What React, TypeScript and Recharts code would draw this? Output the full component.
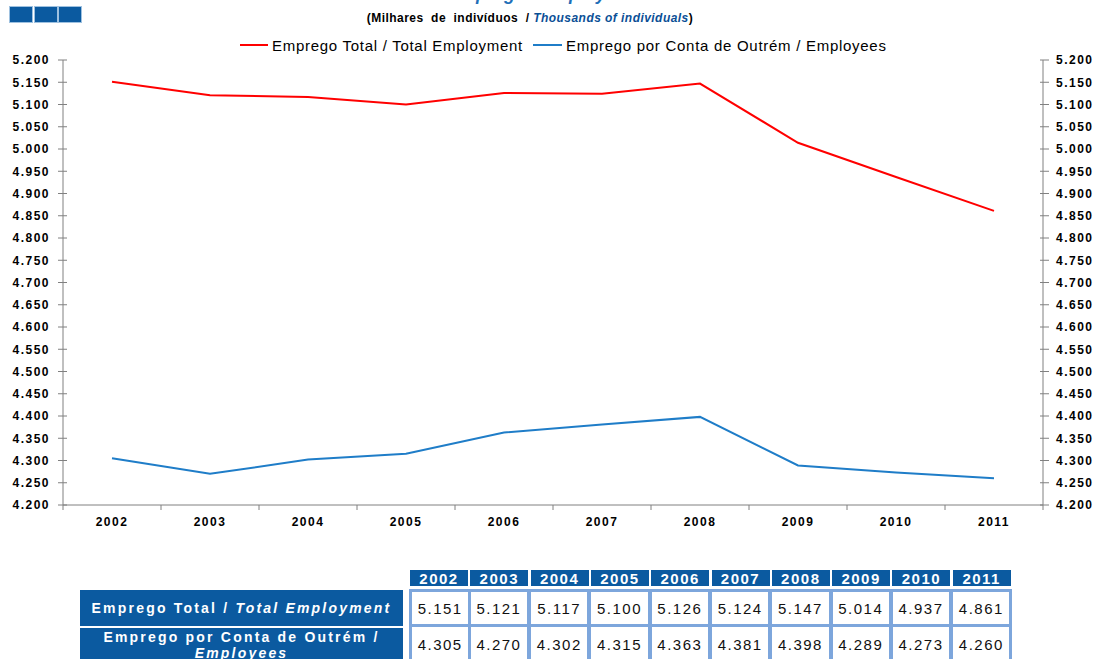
import React from 'react';
import { LineChart, Line, XAxis, YAxis } from 'recharts';

const years = ['2002', '2003', '2004', '2005', '2006', '2007', '2008', '2009', '2010', '2011'];
const totalEmployment = [5151, 5121, 5117, 5100, 5126, 5124, 5147, 5014, 4937, 4861];
const employees = [4305, 4270, 4302, 4315, 4363, 4381, 4398, 4289, 4273, 4260];
const yTicks = [4200, 4250, 4300, 4350, 4400, 4450, 4500, 4550, 4600, 4650, 4700, 4750, 4800, 4850, 4900, 4950, 5000, 5050, 5100, 5150, 5200];

const seriesTotalName = 'Emprego Total / Total Employment';
const seriesEmpName = 'Emprego por Conta de Outrém / Employees';

const RED = '#FF0000';
const BLUE = '#1F7DC8';
const NAVY = '#0B5AA0';
const AXIS = '#808080';
const CELL_BORDER = '#7DA6DC';
const FONT = '"Liberation Sans", Arial, sans-serif';

const CHART_W = 1097;
const PLOT_LEFT = 63;
const PLOT_RIGHT_W = 54;
const HALF_BAND = (CHART_W - PLOT_LEFT - PLOT_RIGHT_W) / years.length / 2;
const X_TICK_MARGIN = 12;

const data = years.map((y, i) => ({ year: y, total: totalEmployment[i], employees: employees[i] }));

const fmt = (v: number) => (v / 1000).toFixed(3);

const LeftTick = (props: any) => {
  const { x, y, payload } = props;
  return (
    <g>
      <line x1={x + 8} x2={x + 17} y1={y} y2={y} stroke={AXIS} strokeWidth={1} />
      <text x={x} y={y} dy="0.36em" textAnchor="end" fontSize={12} fontWeight="bold" fill="#000" style={{ letterSpacing: 1.5 }} fontFamily={FONT}>
        {fmt(payload.value)}
      </text>
    </g>
  );
};

const RightTick = (props: any) => {
  const { x, y, payload } = props;
  return (
    <g>
      <line x1={x - 16} x2={x - 7} y1={y} y2={y} stroke={AXIS} strokeWidth={1} />
      <text x={x} y={y} dy="0.36em" textAnchor="start" fontSize={12} fontWeight="bold" fill="#000" style={{ letterSpacing: 1.5 }} fontFamily={FONT}>
        {fmt(payload.value)}
      </text>
    </g>
  );
};

const BottomTick = (props: any) => {
  const { x, y, payload, index } = props;
  const axisY = y - X_TICK_MARGIN;
  const last = index === years.length - 1;
  return (
    <g>
      <line x1={x - HALF_BAND} x2={x - HALF_BAND} y1={axisY} y2={axisY + 5} stroke={AXIS} strokeWidth={1} />
      {last && <line x1={x + HALF_BAND} x2={x + HALF_BAND} y1={axisY} y2={axisY + 5} stroke={AXIS} strokeWidth={1} />}
      <text x={x} y={y} dy="0.71em" textAnchor="middle" fontSize={12} fontWeight="bold" fill="#000" style={{ letterSpacing: 1.5 }} fontFamily={FONT}>
        {payload.value}
      </text>
    </g>
  );
};

const TableBox: React.FC<{ style: React.CSSProperties; children?: React.ReactNode }> = ({ style, children }) => (
  <div style={{ position: 'absolute', boxSizing: 'border-box', display: 'flex', alignItems: 'center', justifyContent: 'center', ...style }}>{children}</div>
);

export default function App() {
  const colX = (i: number) => 410 + i * 60.3;
  return (
    <div style={{ position: 'absolute', left: 0, top: 0, width: 1097, height: 659, overflow: 'hidden', background: '#fff', fontFamily: FONT }}>
      {/* decorative squares */}
      {[0, 1, 2].map((i) => (
        <div key={i} style={{ position: 'absolute', left: 10 + i * 24.5, top: 7, width: 22, height: 15, background: NAVY, boxShadow: '0 0 0 1px #9EC1E0' }} />
      ))}
      {/* title (mostly cut off) */}
      <div style={{ position: 'absolute', left: 0, width: 1097, top: -17, textAlign: 'center', fontSize: 18, fontWeight: 'bold', fontStyle: 'italic', color: '#1F6FB8', lineHeight: '22px', boxSizing: 'border-box' }}>
        Emprego / Employment
      </div>
      {/* subtitle */}
      <div style={{ position: 'absolute', left: 0, width: 1060, top: 10, textAlign: 'center', fontSize: 12, fontWeight: 'bold', color: '#000', lineHeight: '16px', letterSpacing: 0.45 }}>
        (Milhares&nbsp; de&nbsp; indivíduos&nbsp;&nbsp;/ <span style={{ color: '#0B4F96', fontStyle: 'italic' }}>Thousands of individuals</span>)
      </div>
      {/* legend */}
      <div style={{ position: 'absolute', left: 240, top: 36, height: 18, display: 'flex', alignItems: 'center', fontSize: 15, color: '#000', letterSpacing: 0.72, whiteSpace: 'nowrap' }}>
        <span style={{ display: 'inline-block', width: 28, height: 2, background: RED, marginRight: 4 }} />
        <span>{seriesTotalName}</span>
        <span style={{ display: 'inline-block', width: 29, height: 2, background: BLUE, marginLeft: 10, marginRight: 4 }} />
        <span>{seriesEmpName}</span>
      </div>

      <div style={{ position: 'absolute', left: 0, top: 0 }}>
        <LineChart width={CHART_W} height={545} data={data} margin={{ top: 60, right: 0, bottom: 10, left: 0 }}>
          <XAxis xAxisId="cat" dataKey="year" type="category" height={30} padding={{ left: HALF_BAND, right: HALF_BAND }} axisLine={{ stroke: AXIS }} tickLine={false} tickSize={0} tickMargin={X_TICK_MARGIN} interval={0}
            tick={<BottomTick />} />
          <YAxis yAxisId="left" orientation="left" width={PLOT_LEFT} domain={[4200, 5200]} ticks={yTicks} interval={0} tickSize={5} tickMargin={8} tickLine={false} axisLine={{ stroke: AXIS }} tick={<LeftTick />} allowDataOverflow />
          <YAxis yAxisId="right" orientation="right" width={PLOT_RIGHT_W} domain={[4200, 5200]} ticks={yTicks} interval={0} tickSize={5} tickMargin={8} tickLine={false} axisLine={{ stroke: AXIS }} tick={<RightTick />} allowDataOverflow />
          <Line xAxisId="cat" yAxisId="left" type="linear" dataKey="total" name={seriesTotalName} stroke={RED} strokeWidth={2} dot={false} isAnimationActive={false} />
          <Line xAxisId="cat" yAxisId="left" type="linear" dataKey="employees" name={seriesEmpName} stroke={BLUE} strokeWidth={2} dot={false} isAnimationActive={false} />
        </LineChart>
      </div>

      {/* data table */}
      {years.map((y, i) => (
        <TableBox key={'h' + y} style={{ left: colX(i), top: 570, width: 58, height: 16, background: NAVY, color: '#fff', fontWeight: 'bold', fontSize: 15, letterSpacing: 1.5 }}>
          {y}
        </TableBox>
      ))}
      <TableBox style={{ left: 80, top: 590, width: 323, height: 36, background: NAVY, color: '#fff', fontWeight: 'bold', fontSize: 14, letterSpacing: 2.2 }}>
        <span>Emprego Total / <i>Total Employment</i></span>
      </TableBox>
      <TableBox style={{ left: 80, top: 628, width: 323, height: 36, alignItems: 'flex-start', paddingTop: 1, background: NAVY, color: '#fff', fontWeight: 'bold', fontSize: 14, letterSpacing: 2.2, lineHeight: '16px', textAlign: 'center' }}>
        <span>Emprego por Conta de Outrém /<br /><i>Employees</i></span>
      </TableBox>
      {totalEmployment.map((v, i) => (
        <TableBox key={'t' + i} style={{ left: colX(i) - 1, top: 589, width: 62.3, height: 38, border: `3px solid ${CELL_BORDER}`, marginLeft: i > 0 ? -1.5 : 0, fontSize: 15, letterSpacing: 1.5, color: '#111' }}>
          {fmt(v)}
        </TableBox>
      ))}
      {employees.map((v, i) => (
        <TableBox key={'e' + i} style={{ left: colX(i) - 1, top: 624, width: 62.3, height: 40, border: `3px solid ${CELL_BORDER}`, marginLeft: i > 0 ? -1.5 : 0, fontSize: 15, letterSpacing: 1.5, color: '#111' }}>
          {fmt(v)}
        </TableBox>
      ))}
    </div>
  );
}
